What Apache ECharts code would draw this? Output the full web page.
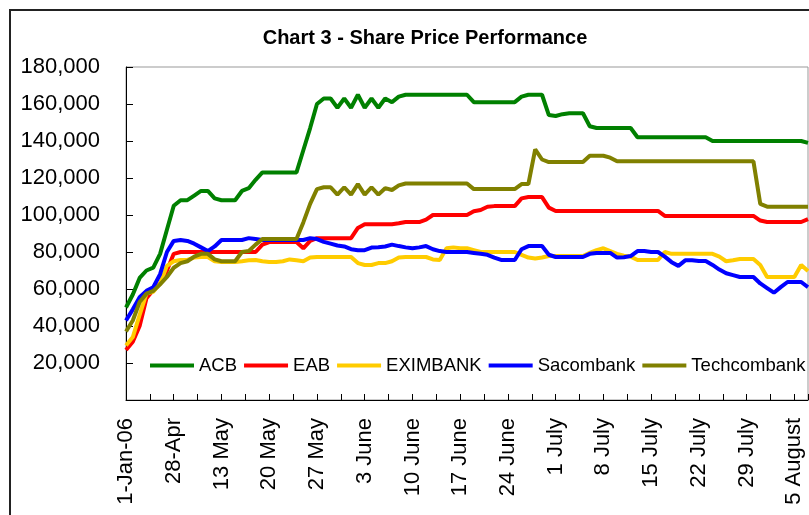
<!DOCTYPE html>
<html>
<head>
<meta charset="utf-8">
<script src="https://cdn.jsdelivr.net/npm/echarts/dist/echarts.min.js"></script>
<style>
html, body { margin: 0; padding: 0; background: #fff; }
#chart { width: 809px; height: 515px; }
</style>
</head>
<body>
<div id="chart"></div>
<script>
// x labels, one every 7 points (ticks every 3.5)
var tickLabels = ['1-Jan-06', '28-Apr', '13 May', '20 May', '27 May', '3 June', '10 June', '17 June',
    '24 June', '1 July', '8 July', '15 July', '22 July', '29 July', '5 August'];

var acb = [50000, 57000, 66000, 70000, 71500, 79000, 92000, 105000, 108000, 108000,
    110500, 113000, 113000, 109000, 108000, 108000, 108000, 113000, 114500, 119000,
    123000, 123000, 123000, 123000, 123000, 123000, 135000, 147000, 160000, 163000,
    163000, 158000, 163000, 158000, 165000, 158000, 163000, 158000, 163000, 161000,
    164000, 165000, 165000, 165000, 165000, 165000, 165000, 165000, 165000, 165000,
    165000, 161000, 161000, 161000, 161000, 161000, 161000, 161000, 164000, 165000,
    165000, 165000, 154000, 153500, 154500, 155000, 155000, 155000, 148000, 147000,
    147000, 147000, 147000, 147000, 147000, 142000, 142000, 142000, 142000, 142000,
    142000, 142000, 142000, 142000, 142000, 142000, 140000, 140000, 140000, 140000,
    140000, 140000, 140000, 140000, 140000, 140000, 140000, 140000, 140000, 140000,
    139000];

var eab = [27000, 31500, 40000, 55000, 59500, 63000, 70000, 79000, 80000, 80000,
    80000, 80000, 80000, 80000, 80000, 80000, 80000, 80000, 80000, 80000,
    84000, 85400, 85400, 85400, 85400, 85400, 82000, 86000, 87500, 87500,
    87500, 87500, 87500, 87500, 93000, 95000, 95000, 95000, 95000, 95000,
    95500, 96200, 96200, 96200, 97500, 100000, 100000, 100000, 100000, 100000,
    100000, 102000, 102700, 104500, 104800, 104800, 104800, 104800, 109000, 109700,
    109700, 109700, 104000, 102200, 102200, 102200, 102200, 102200, 102200, 102200,
    102200, 102200, 102200, 102200, 102200, 102200, 102200, 102200, 102200, 99500,
    99500, 99500, 99500, 99500, 99500, 99500, 99500, 99500, 99500, 99500,
    99500, 99500, 99500, 97000, 96200, 96200, 96200, 96200, 96200, 96200,
    97800];

var eximbank = [29500, 34000, 46000, 57500, 58500, 63000, 72500, 75000, 75700, 75700,
    77000, 77300, 77300, 75000, 74600, 74600, 74600, 75000, 75500, 75700,
    75000, 74600, 74600, 75000, 76000, 75500, 75000, 77000, 77300, 77300,
    77300, 77300, 77300, 77300, 74000, 73000, 73000, 74000, 74000, 75000,
    77000, 77300, 77300, 77300, 77300, 76000, 75700, 82000, 82500, 82000,
    82000, 81000, 80000, 80000, 80000, 80000, 80000, 80000, 78500, 77000,
    76500, 77000, 77800, 77800, 77800, 77800, 77800, 77800, 79500, 81000,
    82000, 80500, 79000, 78000, 77500, 75700, 75700, 75700, 75700, 80000,
    79000, 79000, 79000, 79000, 79000, 79000, 79000, 77500, 75000, 75500,
    76200, 76200, 76200, 73000, 66500, 66500, 66500, 66500, 66500, 73000,
    69700];

var sacombank = [43000, 49000, 55500, 59000, 61000, 68000, 80000, 86000, 86500, 86000,
    84500, 82500, 80500, 83000, 86500, 86500, 86500, 86500, 87500, 87000,
    86500, 86500, 86500, 86500, 86500, 86500, 86500, 87500, 87000, 85500,
    84500, 83500, 83000, 81500, 81000, 81000, 82400, 82600, 83000, 84000,
    83200, 82500, 82000, 82500, 83200, 81500, 80500, 80000, 80000, 80000,
    80000, 79500, 79000, 78500, 77000, 75700, 75700, 75700, 81500, 83200,
    83200, 83200, 78500, 77300, 77300, 77300, 77300, 77300, 79000, 79500,
    79500, 79500, 77000, 77200, 77800, 80500, 80500, 80000, 80000, 77500,
    74500, 72500, 75500, 75500, 75100, 75100, 73000, 70500, 68500, 67500,
    66500, 66500, 66500, 63000, 60500, 58000, 61000, 63800, 63800, 63800,
    61000];

var techcombank = [37000, 43000, 53000, 57500, 59000, 62500, 66500, 71500, 74000, 75000,
    77500, 79000, 79000, 76000, 75000, 75000, 75000, 80000, 80500, 84000,
    87000, 87000, 87000, 87000, 87000, 87000, 96000, 106000, 114000, 115000,
    115000, 111000, 115000, 111000, 116700, 111000, 115000, 111000, 114500, 113500,
    116000, 117000, 117000, 117000, 117000, 117000, 117000, 117000, 117000, 117000,
    117000, 114000, 114000, 114000, 114000, 114000, 114000, 114000, 116700, 116700,
    135500, 130000, 128600, 128600, 128600, 128600, 128600, 128600, 132000, 132000,
    132000, 131000, 129000, 129000, 129000, 129000, 129000, 129000, 129000, 129000,
    129000, 129000, 129000, 129000, 129000, 129000, 129000, 129000, 129000, 129000,
    129000, 129000, 129000, 106000, 104500, 104500, 104500, 104500, 104500, 104500,
    104500];

var names = ['ACB', 'EAB', 'EXIMBANK', 'Sacombank', 'Techcombank'];
var colors = ['#008000', '#ff0000', '#ffcc00', '#0000ff', '#808000'];
var values = [acb, eab, eximbank, sacombank, techcombank];

var myChart = echarts.init(document.getElementById('chart'));

var series = names.map(function (name, k) {
    return {
        name: name,
        type: 'line',
        symbol: 'none',
        color: colors[k],
        lineStyle: { width: 4, color: colors[k] },
        data: values[k].map(function (v, i) { return [i, v]; })
    };
});

var option = {
    animation: false,
    backgroundColor: '#fff',
    title: {
        text: 'Chart 3 - Share Price Performance',
        left: 420,
        top: 23,
        textAlign: 'center',
        textStyle: { fontFamily: 'Liberation Sans', fontSize: 20, fontWeight: 'bold', color: '#000' }
    },
    graphic: [{
        type: 'rect',
        shape: { x: 10, y: 10, width: 820, height: 520 },
        style: { fill: 'none', stroke: '#222', lineWidth: 2 }
    }],
    legend: {
        data: names,
        icon: 'rect',
        left: 145,
        top: 351,
        width: 700,
        itemWidth: 44,
        itemHeight: 4,
        itemGap: 7,
        textStyle: { fontFamily: 'Liberation Sans', fontSize: 18.5, color: '#000' }
    },
    grid: {
        left: 126,
        top: 67,
        right: 1,
        bottom: 115,
        show: true,
        borderColor: '#999',
        borderWidth: 1
    },
    xAxis: {
        type: 'value',
        min: 0,
        max: 100,
        interval: 3.5,
        splitLine: { show: false },
        axisLine: { lineStyle: { color: '#000', width: 1 } },
        axisTick: { inside: true, length: 6, lineStyle: { color: '#000' } },
        axisLabel: {
            rotate: 90,
            margin: 18,
            fontFamily: 'Liberation Sans',
            fontSize: 22,
            color: '#000',
            formatter: function (v) {
                var k = Math.round(v / 7);
                if (Math.abs(v - k * 7) < 1e-6 && k < tickLabels.length) return tickLabels[k];
                return '';
            }
        }
    },
    yAxis: {
        type: 'value',
        min: 0,
        max: 180000,
        interval: 20000,
        splitLine: { show: false },
        axisLine: { show: true, lineStyle: { color: '#000', width: 1 } },
        axisTick: { show: true, inside: true, length: 7, lineStyle: { color: '#000' } },
        axisLabel: {
            margin: 26,
            fontFamily: 'Liberation Sans',
            fontSize: 22,
            color: '#000',
            formatter: function (v) {
                if (v === 0) return '';
                return v.toLocaleString('en-US');
            }
        }
    },
    series: series
};
myChart.setOption(option);
</script>
</body>
</html>
